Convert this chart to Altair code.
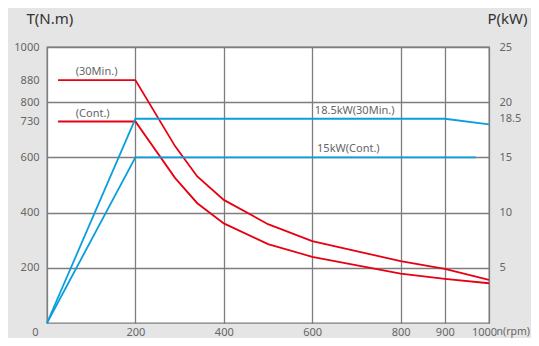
import altair as alt
import pandas as pd

# ---- data ----
# torque curves, N.m vs rpm
rpm_30min = [25, 200, 290, 340, 400, 500, 600, 800, 900, 1000]
torque_30min = [880, 880, 640, 531, 446, 358, 297, 224, 196, 156]
rpm_cont = [25, 200, 290, 340, 400, 500, 600, 800, 900, 1000]
torque_cont = [730, 730, 525, 434, 361, 286, 240, 179, 160, 144]

# power curves, kW vs rpm
rpm_p30 = [0, 200, 900, 1000]
power_p30 = [0, 18.5, 18.5, 18.0]
rpm_pcont = [0, 200, 970]
power_pcont = [0, 15, 15]

# tick values
x_ticks = [0, 200, 400, 600, 800, 900, 1000]
t_ticks = [200, 400, 600, 730, 800, 880, 1000]
p_ticks = [5, 10, 15, 18.5, 20, 25]

# annotations
torque_labels = ["(30Min.)", "(Cont.)"]
torque_label_rpm = [65, 65]
torque_label_val = [880, 730]
power_labels = ["18.5kW(30Min.)", "15kW(Cont.)"]
power_label_rpm = [606, 611]
power_label_val = [18.5, 15]

RED = "#e60012"
BLUE = "#0a9fdc"
GRID = "#7d7d7d"
TXT = "#666666"
FONT = "Noto Sans"

df_t = pd.concat([
    pd.DataFrame({"rpm": rpm_30min, "T": torque_30min, "series": "30min"}),
    pd.DataFrame({"rpm": rpm_cont, "T": torque_cont, "series": "cont"}),
])
df_p = pd.concat([
    pd.DataFrame({"rpm": rpm_p30, "P": power_p30, "series": "30min"}),
    pd.DataFrame({"rpm": rpm_pcont, "P": power_pcont, "series": "cont"}),
])
df_tl = pd.DataFrame({"rpm": torque_label_rpm, "T": torque_label_val, "text": torque_labels})
df_pl = pd.DataFrame({"rpm": power_label_rpm, "P": power_label_val, "text": power_labels})

x_scale = alt.Scale(domain=[0, 1000], nice=False, zero=False)
t_scale = alt.Scale(domain=[0, 1000], nice=False)
p_scale = alt.Scale(domain=[0, 25], nice=False)

x_axis = alt.Axis(
    values=x_ticks, format="d", title="n(rpm)", ticks=False, domain=False,
    grid=True, gridColor=GRID, gridWidth=1.3,
    labelFont=FONT, labelFontSize=11, labelColor=TXT, labelPadding=3,
    labelOffset={"condition": [{"test": "datum.value == 0", "value": -12},
                               {"test": "datum.value == 1000", "value": -5}],
                 "value": 0},
    labelFlush=False, labelOverlap=False,
    titleFont=FONT, titleFontSize=10.5, titleColor=TXT, titleFontWeight="normal",
    titleAngle=0, titleAlign="left", titleBaseline="middle", titleX=449, titleY=8,
)
t_axis = alt.Axis(
    values=t_ticks, format="d", title="T(N.m)", orient="left", ticks=False, domain=False,
    grid=True, gridColor=GRID, gridWidth=1.3,
    gridOpacity={"condition": {"test": "datum.value == 730 || datum.value == 880", "value": 0}, "value": 1},
    labelFont=FONT, labelFontSize=11, labelColor=TXT, labelPadding=8,
    labelFlush=False, labelOverlap=False,
    titleFont=FONT, titleFontSize=15, titleColor="#333333", titleFontWeight="normal",
    titleAngle=0, titleAlign="left", titleBaseline="middle", titleX=-21, titleY=-29,
)
p_axis = alt.Axis(
    values=p_ticks, format=".3~g", title="P(kW)", orient="right", ticks=False, domain=False, grid=False,
    labelFont=FONT, labelFontSize=11, labelColor=TXT, labelPadding=10,
    labelFlush=False, labelOverlap=False,
    titleFont=FONT, titleFontSize=15, titleColor="#333333", titleFontWeight="normal",
    titleAngle=0, titleAlign="left", titleBaseline="middle", titleX=-2, titleY=-29,
)

X = alt.X("rpm:Q", scale=x_scale, axis=x_axis)
YT = alt.Y("T:Q", scale=t_scale, axis=t_axis)
YP = alt.Y("P:Q", scale=p_scale, axis=p_axis)

t_lines = alt.Chart(df_t).mark_line(color=RED, strokeWidth=1.8).encode(
    x=X, y=YT, detail="series:N",
)
t_text = alt.Chart(df_tl).mark_text(
    align="left", baseline="alphabetic", dy=-5, font=FONT, fontSize=11, color=TXT
).encode(x=X, y=YT, text="text:N")
p_lines = alt.Chart(df_p).mark_line(color=BLUE, strokeWidth=1.8).encode(
    x=X, y=YP, detail="series:N",
)
p_text = alt.Chart(df_pl).mark_text(
    align="left", baseline="alphabetic", dy=-5, font=FONT, fontSize=11, color=TXT
).encode(x=X, y=YP, text="text:N")

left = alt.layer(t_lines, t_text)
right = alt.layer(p_lines, p_text)

chart = alt.layer(left, right).resolve_scale(y="independent").properties(
    width=442, height=276,
    autosize=alt.AutoSizeParams(type="none"),
    padding={"left": 39, "top": 39, "right": 42, "bottom": 15},
    background="#e5e5e5",
).configure_view(
    stroke=GRID, strokeWidth=1.3, fill="white"
)

chart.save("out.html", embed_options={"renderer": "svg", "actions": False})
